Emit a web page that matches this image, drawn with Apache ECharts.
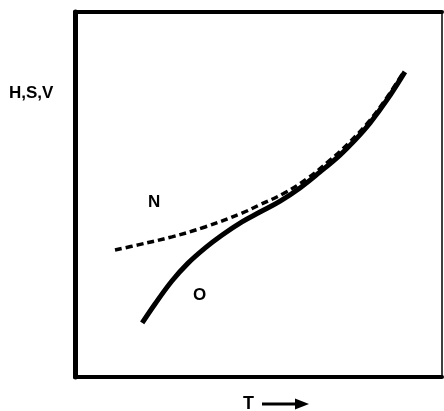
<!DOCTYPE html>
<html><head><meta charset="utf-8">
<script src="https://cdn.jsdelivr.net/npm/echarts@6/dist/echarts.min.js"></script>
<style>html,body{margin:0;padding:0;background:#fff}#c{width:444px;height:411px}</style>
</head><body><div id="c"></div>
<script>
// Curve O (solid): [T, value]
const curveO = [[18.3,14.8],[21.8,20.0],[26.4,26.3],[30.8,31.2],[35.4,35.3],[40.1,38.9],[45.5,42.5],[50.4,45.2],[55.9,48.2],[61.3,51.8],[66.8,56.2],[72.2,60.8],[76.3,64.9],[80.4,69.6],[85.0,75.9],[89.9,83.6]];
// Curve N (dashed)
const curveN = [[10.9,34.8],[17.2,36.2],[26.4,38.4],[35.4,41.1],[45.5,44.9],[50.4,47.2],[56.7,50.2],[63.2,54.3],[69.5,59.4],[74.9,64.4],[80.4,70.4],[85.0,76.6],[89.4,83.3]];
const labelY = 'H,S,V';
const labelX = 'T';
const curveNames = ['N','O'];

const chart = echarts.init(document.getElementById('c'));
const font = '"Liberation Sans", Arial, sans-serif';
const hiddenAxis = {axisTick:{show:false},axisLabel:{show:false},splitLine:{show:false}};
chart.setOption({
  animation:false,
  grid:{left:75,top:12,width:367,height:365},
  xAxis:[
    Object.assign({type:'value',min:0,max:100,position:'bottom',axisLine:{show:true,onZero:false,lineStyle:{color:'#000',width:4}}},hiddenAxis),
    Object.assign({type:'value',min:0,max:100,position:'top',axisLine:{show:true,onZero:false,lineStyle:{color:'#000',width:4}}},hiddenAxis)
  ],
  yAxis:[
    Object.assign({type:'value',min:0,max:100,position:'left',axisLine:{show:true,onZero:false,lineStyle:{color:'#000',width:5}}},hiddenAxis),
    Object.assign({type:'value',min:0,max:100,position:'right',axisLine:{show:true,onZero:false,lineStyle:{color:'#000',width:1.5}}},hiddenAxis)
  ],
  series:[
    {type:'line',name:curveNames[0],data:curveN,smooth:0.4,symbol:'none',lineStyle:{color:'#000',width:3.5,type:[7,4]}},
    {type:'line',name:curveNames[1],data:curveO,smooth:0.4,symbol:'none',lineStyle:{color:'#000',width:5,cap:'butt'}}
  ],
  graphic:[
    {type:'text',left:9,top:85,style:{text:labelY,font:'bold 17px '+font,fill:'#000'}},
    {type:'text',left:148,top:194,style:{text:curveNames[0],font:'bold 17px '+font,fill:'#000'}},
    {type:'text',left:193,top:287,style:{text:curveNames[1],font:'bold 17px '+font,fill:'#000'}},
    {type:'text',left:243,top:395,style:{text:labelX,font:'bold 18px '+font,fill:'#000'}},
    {type:'line',shape:{x1:262,y1:404,x2:298,y2:404},style:{stroke:'#000',lineWidth:3}},
    {type:'polygon',shape:{points:[[295,398.5],[309,404],[295,409.5]]},style:{fill:'#000'}}
  ]
});
</script></body></html>
